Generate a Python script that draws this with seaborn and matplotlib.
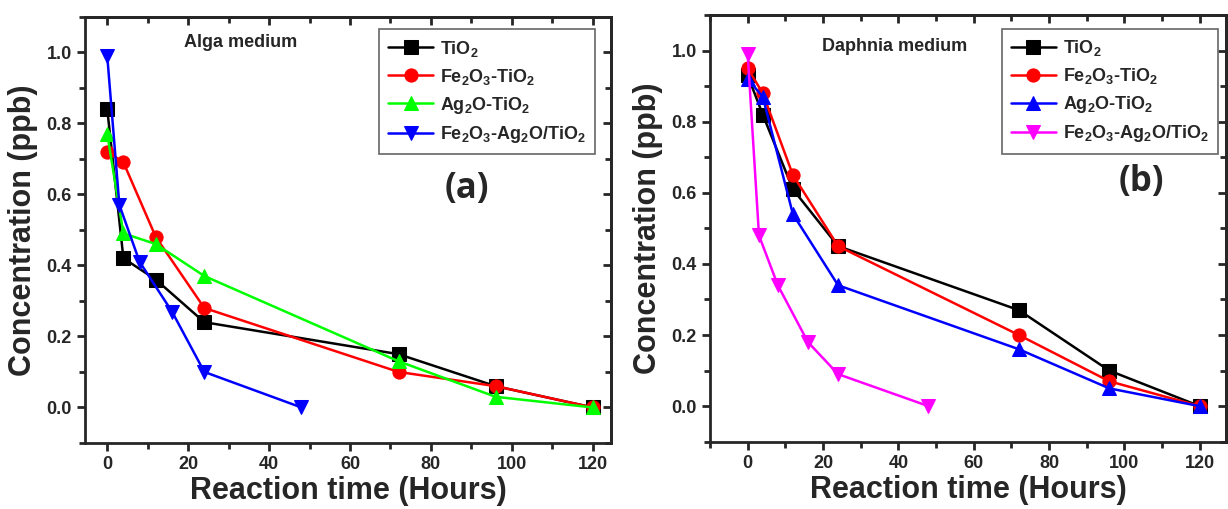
import numpy as np
import pandas as pd
import matplotlib
matplotlib.use('Agg')
import matplotlib.pyplot as plt
import seaborn as sns
from matplotlib.ticker import MultipleLocator

# time points (hours)
t_main = [0, 4, 12, 24, 72, 96, 120]
t_fast = [0, 3, 8, 16, 24, 48]

# Alga medium
alga_tio2 = [0.84, 0.42, 0.36, 0.24, 0.15, 0.06, 0.0]
alga_fe = [0.72, 0.69, 0.48, 0.28, 0.10, 0.06, 0.0]
alga_ag = [0.77, 0.49, 0.46, 0.37, 0.13, 0.03, 0.0]
alga_feag = [0.99, 0.57, 0.41, 0.27, 0.10, 0.0]

# Daphnia medium
daph_tio2 = [0.93, 0.82, 0.61, 0.45, 0.27, 0.10, 0.0]
daph_fe = [0.95, 0.88, 0.65, 0.45, 0.20, 0.07, 0.0]
daph_ag = [0.92, 0.87, 0.54, 0.34, 0.16, 0.05, 0.0]
daph_feag = [0.99, 0.48, 0.34, 0.18, 0.09, 0.0]

labels = [r'TiO$_2$', r'Fe$_2$O$_3$-TiO$_2$', r'Ag$_2$O-TiO$_2$', r'Fe$_2$O$_3$-Ag$_2$O/TiO$_2$']
markers = ['s', 'o', '^', 'v']

sns.set_style('ticks')
plt.rcParams['font.family'] = ['Liberation Sans', 'DejaVu Sans']
plt.rcParams['mathtext.fontset'] = 'custom'
plt.rcParams['mathtext.rm'] = 'Liberation Sans:bold'
plt.rcParams['mathtext.it'] = 'Liberation Sans:bold'
plt.rcParams['mathtext.bf'] = 'Liberation Sans:bold'


def draw_panel(ax, series, colors, medium, medium_xy, letter, letter_xy, xlim, legend_anchor):
    for (x, y), lab, mk, col in zip(series, labels, markers, colors):
        df = pd.DataFrame({'t': x, 'c': y})
        sns.lineplot(data=df, x='t', y='c', ax=ax, color=col, marker=mk,
                     markersize=9.5, markeredgecolor=col, linewidth=1.8, label=lab)
    ax.set_xlim(*xlim)
    ax.set_ylim(-0.1, 1.1)
    ax.xaxis.set_major_locator(MultipleLocator(20))
    ax.xaxis.set_minor_locator(MultipleLocator(10))
    ax.yaxis.set_major_locator(MultipleLocator(0.2))
    ax.yaxis.set_minor_locator(MultipleLocator(0.1))
    ax.yaxis.set_major_formatter(matplotlib.ticker.FormatStrFormatter('%.1f'))
    ax.tick_params(which='major', direction='out', length=6, width=2, labelsize=13)
    ax.tick_params(which='minor', direction='out', length=4, width=2)
    for lbl in ax.get_xticklabels() + ax.get_yticklabels():
        lbl.set_fontweight('bold')
    for sp in ax.spines.values():
        sp.set_linewidth(2)
    ax.set_xlabel('Reaction time (Hours)', fontsize=22, fontweight='bold', labelpad=2)
    ax.set_ylabel('Concentration (ppb)', fontsize=22, fontweight='bold', labelpad=6)

    # mirrored ticks pointing inward on top and right
    top = ax.secondary_xaxis('top')
    top.xaxis.set_major_locator(MultipleLocator(20))
    top.xaxis.set_minor_locator(MultipleLocator(10))
    top.tick_params(which='both', direction='in', length=6, width=2, labeltop=False)
    top.tick_params(which='minor', length=4)
    right = ax.secondary_yaxis('right')
    right.yaxis.set_major_locator(MultipleLocator(0.2))
    right.yaxis.set_minor_locator(MultipleLocator(0.1))
    right.tick_params(which='both', direction='in', length=6, width=2, labelright=False)
    right.tick_params(which='minor', length=4)
    for s in (top, right):
        for sp in s.spines.values():
            sp.set_linewidth(2)

    ax.text(medium_xy[0], medium_xy[1], medium, fontsize=13, fontweight='bold',
            ha='center', va='center')
    ax.text(letter_xy[0], letter_xy[1], letter, fontsize=25, fontweight='bold',
            ha='center', va='center', family=['Open Sans', 'DejaVu Sans'])
    leg = ax.legend(loc='upper right', bbox_to_anchor=legend_anchor, borderaxespad=0,
                    prop={'weight': 'bold', 'size': 13}, handlelength=2.5,
                    handletextpad=0.4, labelspacing=0.45, borderpad=0.5,
                    fancybox=False, framealpha=1)
    leg.get_frame().set_edgecolor('#666666')
    leg.get_frame().set_linewidth(1.2)


fig = plt.figure(figsize=(12.28, 5.09), dpi=100)
ax1 = fig.add_axes([0.0692, 0.1297, 0.4283, 0.8375])
ax2 = fig.add_axes([0.5782, 0.1322, 0.4202, 0.8383])

draw_panel(ax1,
           [(t_main, alga_tio2), (t_main, alga_fe), (t_main, alga_ag), (t_fast, alga_feag)],
           ['black', '#ff0000', '#00ff00', '#0000ff'],
           'Alga medium', (33, 1.026), '(a)', (89, 0.615), (-5.5, 124.5), (0.97, 0.97))
draw_panel(ax2,
           [(t_main, daph_tio2), (t_main, daph_fe), (t_main, daph_ag), (t_fast, daph_feag)],
           ['black', '#ff0000', '#0000ff', '#ff00ff'],
           'Daphnia medium', (39, 1.011), '(b)', (104.5, 0.63), (-10, 127), (0.984, 0.967))

fig.savefig('out.png', dpi=100)
